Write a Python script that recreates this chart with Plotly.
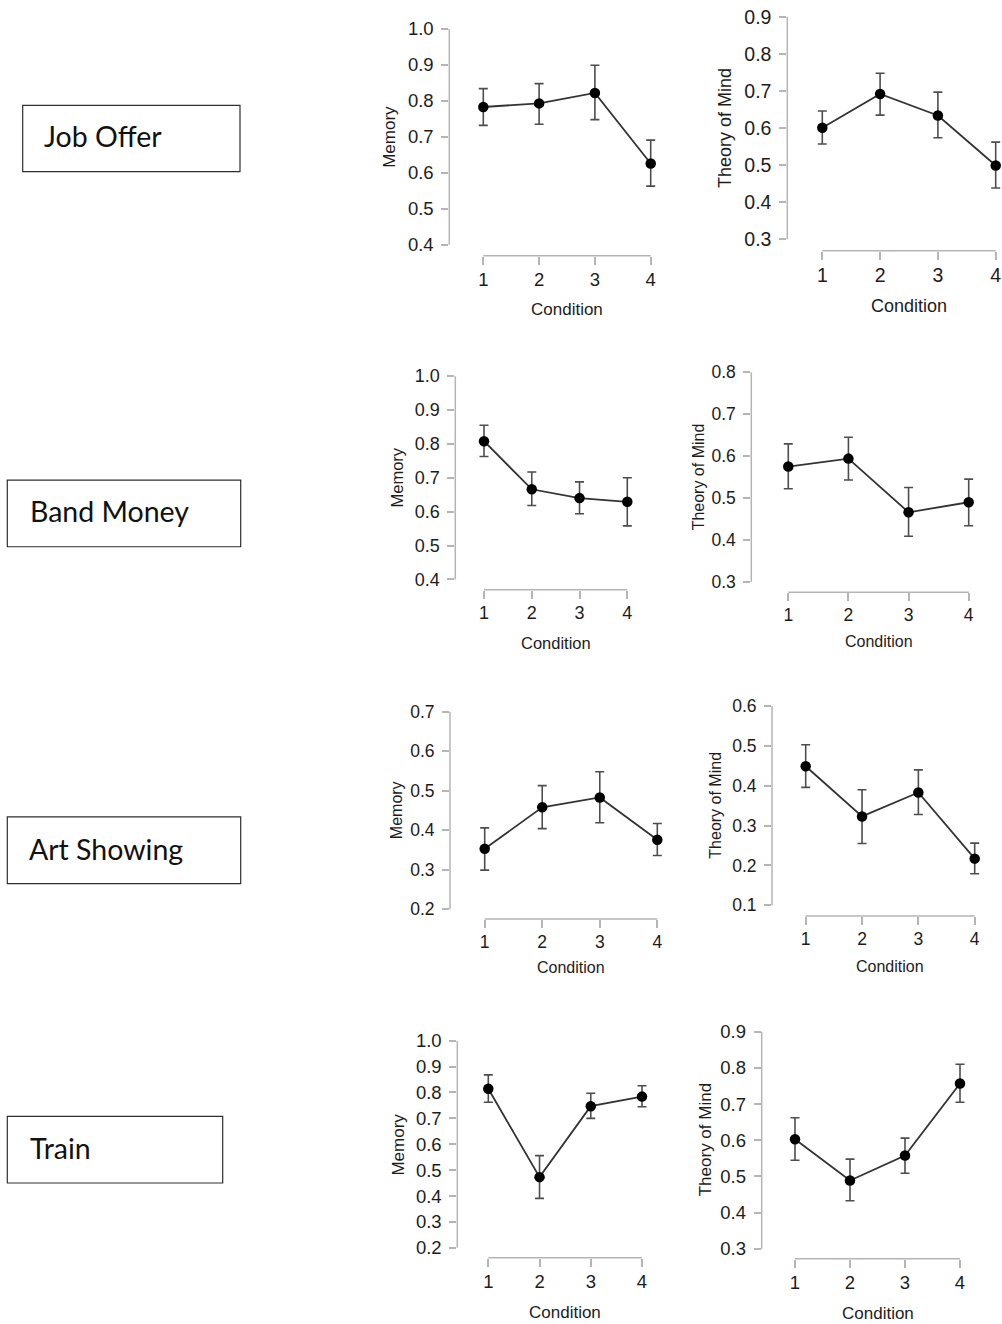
import plotly.graph_objects as go

W, H = 1002, 1324

# ---------------- data ----------------
conditions = [1, 2, 3, 4]

job_offer_memory = [0.783, 0.793, 0.822, 0.626]
job_offer_memory_hi = [0.834, 0.848, 0.899, 0.691]
job_offer_memory_lo = [0.732, 0.735, 0.748, 0.563]

job_offer_tom = [0.601, 0.692, 0.634, 0.499]
job_offer_tom_hi = [0.646, 0.748, 0.697, 0.562]
job_offer_tom_lo = [0.557, 0.635, 0.574, 0.438]

band_money_memory = [0.808, 0.666, 0.640, 0.629]
band_money_memory_hi = [0.855, 0.717, 0.688, 0.700]
band_money_memory_lo = [0.763, 0.618, 0.594, 0.558]

band_money_tom = [0.575, 0.594, 0.466, 0.490]
band_money_tom_hi = [0.629, 0.645, 0.525, 0.545]
band_money_tom_lo = [0.522, 0.543, 0.409, 0.434]

art_showing_memory = [0.353, 0.458, 0.483, 0.376]
art_showing_memory_hi = [0.406, 0.513, 0.548, 0.417]
art_showing_memory_lo = [0.299, 0.404, 0.419, 0.336]

art_showing_tom = [0.449, 0.323, 0.383, 0.217]
art_showing_tom_hi = [0.503, 0.390, 0.440, 0.256]
art_showing_tom_lo = [0.396, 0.255, 0.328, 0.179]

train_memory = [0.814, 0.473, 0.747, 0.784]
train_memory_hi = [0.868, 0.556, 0.797, 0.826]
train_memory_lo = [0.762, 0.391, 0.700, 0.745]

train_tom = [0.603, 0.489, 0.558, 0.757]
train_tom_hi = [0.662, 0.548, 0.606, 0.810]
train_tom_lo = [0.545, 0.433, 0.509, 0.705]

scenario_labels = ["Job Offer", "Band Money", "Art Showing", "Train"]
y_titles = ["Memory", "Theory of Mind"]
x_title = "Condition"

# y tick ranges (lowest, highest) per panel
y_tick_lo = [0.4, 0.3, 0.4, 0.3, 0.2, 0.1, 0.2, 0.3]
y_tick_hi = [1.0, 0.9, 1.0, 0.8, 0.7, 0.6, 1.0, 0.9]

series = [
    (job_offer_memory, job_offer_memory_hi, job_offer_memory_lo),
    (job_offer_tom, job_offer_tom_hi, job_offer_tom_lo),
    (band_money_memory, band_money_memory_hi, band_money_memory_lo),
    (band_money_tom, band_money_tom_hi, band_money_tom_lo),
    (art_showing_memory, art_showing_memory_hi, art_showing_memory_lo),
    (art_showing_tom, art_showing_tom_hi, art_showing_tom_lo),
    (train_memory, train_memory_hi, train_memory_lo),
    (train_tom, train_tom_hi, train_tom_lo),
]

# ---------------- layout geometry (pixels) ----------------
# py_lo, py_hi: pixel y of lowest/highest y tick; pxa: pixel y of x axis line
# pya: pixel x of y axis line; px1, px4: pixel x of condition 1 and 4
# ytx: pixel x of y title centre; xty: pixel y of x title centre; fs: font size
geom = [
    dict(py_lo=242.3, py_hi=26.0, pxa=253.3, pya=449.3, px1=483.3, px4=650.7, ytx=390.0, xty=306.7, fs=17),
    dict(py_lo=236.7, py_hi=14.0, pxa=248.3, pya=787.3, px1=822.3, px4=995.7, ytx=725.0, xty=303.3, fs=18),
    dict(py_lo=577.7, py_hi=374.0, pxa=588.0, pya=455.3, px1=484.0, px4=627.3, ytx=396.7, xty=641.7, fs=16.5),
    dict(py_lo=580.3, py_hi=370.0, pxa=590.7, pya=751.3, px1=788.3, px4=968.7, ytx=698.3, xty=640.0, fs=16),
    dict(py_lo=908.3, py_hi=710.3, pxa=918.0, pya=450.0, px1=484.7, px4=657.3, ytx=396.7, xty=966.7, fs=16),
    dict(py_lo=904.3, py_hi=704.7, pxa=915.0, pya=772.0, px1=805.7, px4=974.7, ytx=716.0, xty=965.3, fs=16),
    dict(py_lo=1247.7, py_hi=1040.0, pxa=1257.7, pya=457.3, px1=488.3, px4=642.0, ytx=398.3, xty=1312.7, fs=17),
    dict(py_lo=1248.7, py_hi=1031.0, pxa=1258.7, pya=761.7, px1=795.0, px4=960.0, ytx=705.0, xty=1313.3, fs=17),
]

boxes = [
    dict(x0=22.7, x1=240.0, y0=102.7, y1=169.0, tx=41.5, ty=133.5),
    dict(x0=7.3, x1=240.7, y0=478.3, y1=545.0, tx=28.3, ty=509.5),
    dict(x0=7.3, x1=240.7, y0=815.7, y1=882.7, tx=27.3, ty=848.0),
    dict(x0=7.3, x1=222.7, y0=1116.0, y1=1182.7, tx=28.3, ty=1147.5),
]

AXIS_COL = "#b5b5b5"
TEXT_COL = "#1c1c1c"
FONT = "Liberation Sans, Arial, Helvetica, sans-serif"


def px_x(p):
    return p / W


def px_y(p):
    return 1 - p / H


fig = go.Figure()
shapes = []
annotations = []

for i, (g, (vals, hi, lo)) in enumerate(zip(geom, series)):
    n = i + 1
    xa = "x" if n == 1 else f"x{n}"
    ya = "y" if n == 1 else f"y{n}"
    ylo, yhi = y_tick_lo[i], y_tick_hi[i]
    k = (g["py_lo"] - g["py_hi"]) / (yhi - ylo)
    top_px = g["py_hi"] - 8
    ymin = ylo - (g["pxa"] - g["py_lo"]) / k
    ymax = yhi + (g["py_hi"] - top_px) / k
    s = (g["px4"] - g["px1"]) / 3
    right_px = min(g["px4"] + 0.25 * s, W)
    xmin = 1 - (g["px1"] - g["pya"]) / s
    xmax = 4 + (right_px - g["px4"]) / s
    tfs = g["fs"] + 1.5

    fig.add_trace(go.Scatter(
        x=conditions, y=vals, xaxis=xa, yaxis=ya,
        mode="lines+markers",
        line=dict(color="#333333", width=1.8),
        marker=dict(color="black", size=10.5, line=dict(color="black", width=0)),
        error_y=dict(type="data", symmetric=False,
                     array=[h - v for h, v in zip(hi, vals)],
                     arrayminus=[v - l for v, l in zip(vals, lo)],
                     color="#4d4d4d", thickness=1.6, width=4.5),
        cliponaxis=False, showlegend=False, hoverinfo="x+y",
    ))

    nt = int(round((yhi - ylo) / 0.1)) + 1
    yticks = [round(ylo + 0.1 * j, 1) for j in range(nt)]

    xkey = "xaxis" if n == 1 else f"xaxis{n}"
    ykey = "yaxis" if n == 1 else f"yaxis{n}"
    fig.update_layout(**{
        xkey: dict(domain=[px_x(g["pya"]), px_x(right_px)], range=[xmin, xmax],
                   anchor=ya, tickvals=conditions, ticktext=[str(c) for c in conditions],
                   ticks="outside", ticklen=8, tickwidth=1.5, tickcolor=AXIS_COL,
                   showline=False, showgrid=False, zeroline=False,
                   ticklabelstandoff=-1,
                   tickfont=dict(family=FONT, size=tfs, color=TEXT_COL), fixedrange=True),
        ykey: dict(domain=[px_y(g["pxa"]), px_y(top_px)], range=[ymin, ymax],
                   anchor=xa, tickvals=yticks, ticktext=[f"{t:.1f}" for t in yticks],
                   ticks="outside", ticklen=7, tickwidth=1.5, tickcolor=AXIS_COL,
                   showline=False, showgrid=False, zeroline=False,
                   ticklabelstandoff=4,
                   tickfont=dict(family=FONT, size=tfs, color=TEXT_COL), fixedrange=True),
    })

    # offset axis lines spanning the tick range
    shapes.append(dict(type="line", xref=f"{xa} domain", yref=ya, x0=0, x1=0, y0=ylo, y1=yhi,
                       line=dict(color=AXIS_COL, width=1.5)))
    shapes.append(dict(type="line", xref=xa, yref=f"{ya} domain", x0=1, x1=4, y0=0, y1=0,
                       line=dict(color=AXIS_COL, width=1.5)))

    annotations.append(dict(text=y_titles[i % 2], xref="paper", yref="paper",
                            x=px_x(g["ytx"]), y=px_y((g["py_lo"] + g["py_hi"]) / 2),
                            xanchor="center", yanchor="middle", textangle=-90, showarrow=False,
                            font=dict(family=FONT, size=g["fs"], color=TEXT_COL)))
    annotations.append(dict(text=x_title, xref="paper", yref="paper",
                            x=px_x((g["px1"] + g["px4"]) / 2), y=px_y(g["xty"]),
                            xanchor="center", yanchor="middle", showarrow=False,
                            font=dict(family=FONT, size=g["fs"], color=TEXT_COL)))

for b, lab in zip(boxes, scenario_labels):
    shapes.append(dict(type="rect", xref="paper", yref="paper",
                       x0=px_x(b["x0"]), x1=px_x(b["x1"]), y0=px_y(b["y1"]), y1=px_y(b["y0"]),
                       line=dict(color="#2e2e2e", width=1.2), fillcolor="rgba(0,0,0,0)"))
    annotations.append(dict(text=lab, xref="paper", yref="paper",
                            x=px_x(b["tx"]), y=px_y(b["ty"]), xanchor="left", yanchor="middle",
                            showarrow=False,
                            font=dict(family="Lato, Carlito, Calibri, sans-serif", size=28.5, color="#111111")))

fig.update_layout(width=W, height=H, margin=dict(l=0, r=0, t=0, b=0),
                  paper_bgcolor="white", plot_bgcolor="white",
                  shapes=shapes, annotations=annotations, showlegend=False)

fig.write_html("out.html", config={"displayModeBar": False})
